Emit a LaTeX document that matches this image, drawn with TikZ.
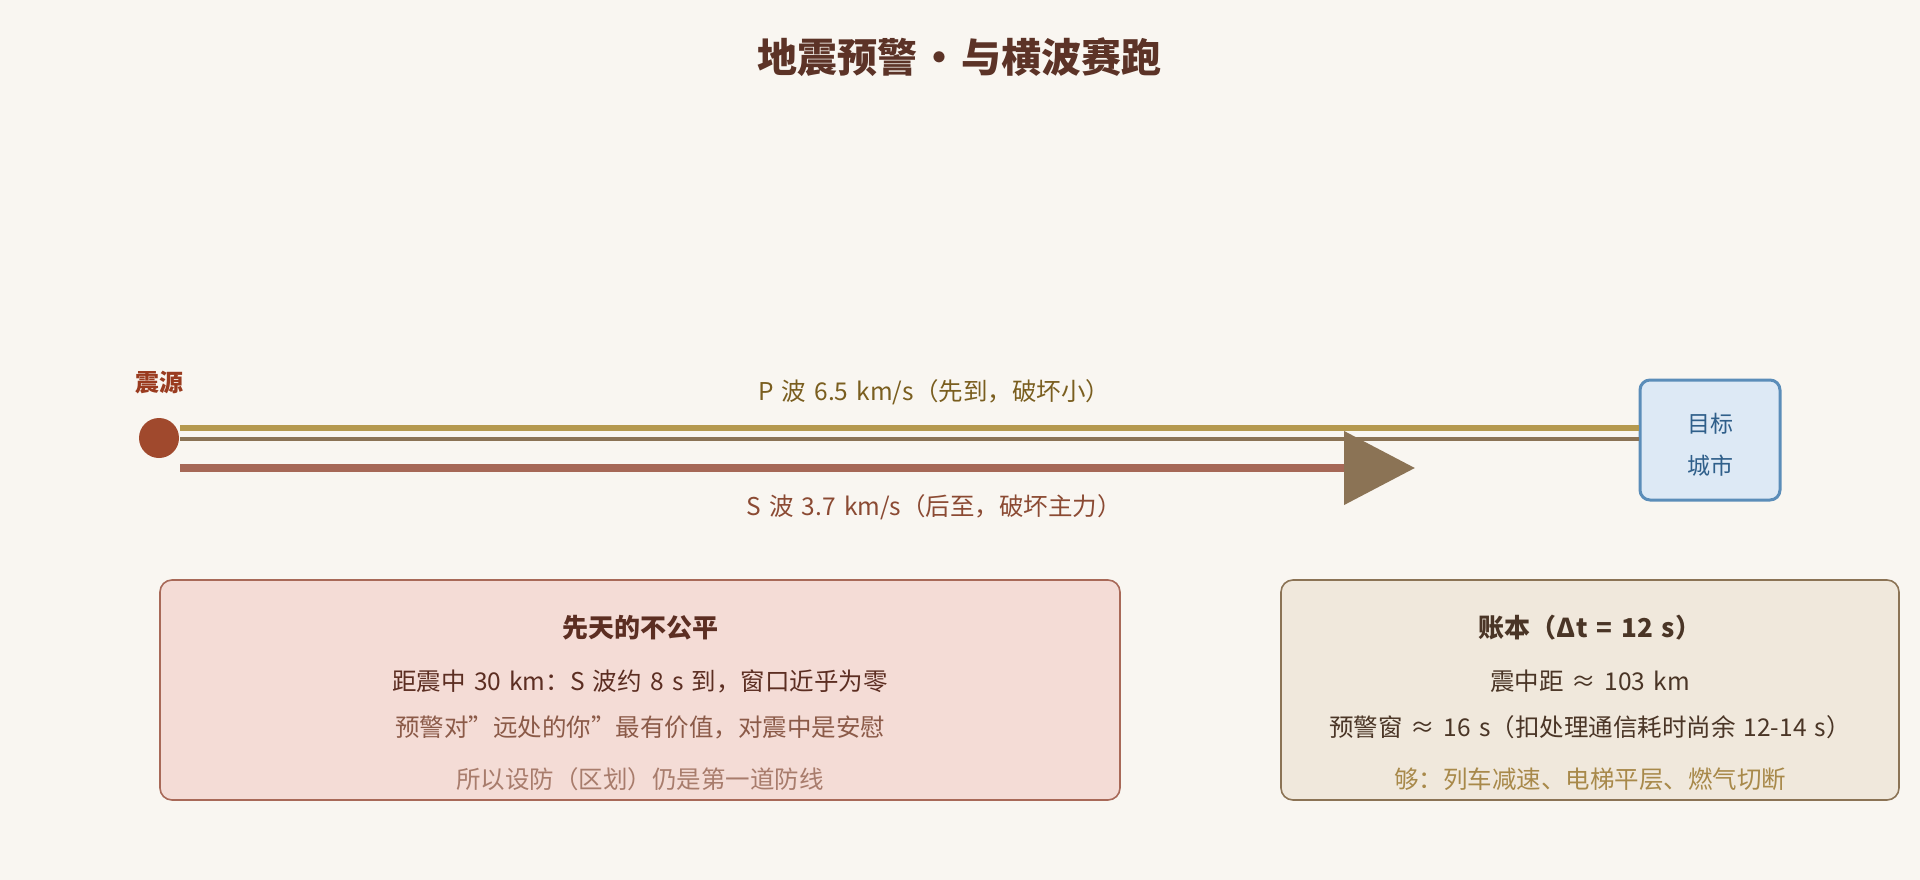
\documentclass[tikz,border=0pt]{standalone}
\usepackage{fontspec}
\setmainfont{Noto Sans CJK SC}[WordSpace=1.5]
\usetikzlibrary{positioning, arrows.meta}

\definecolor{bgcream}{HTML}{F9F6F1}
\definecolor{titlebrown}{HTML}{5C3327}
\definecolor{srcred}{HTML}{9A3B1F}
\definecolor{dotred}{HTML}{A0492D}
\definecolor{pgold}{HTML}{B5994F}
\definecolor{midbrown}{HTML}{8B7355}
\definecolor{srose}{HTML}{A66857}
\definecolor{ptext}{HTML}{7A5E1F}
\definecolor{stext}{HTML}{8B4A33}
\definecolor{cityfill}{HTML}{DDE9F5}
\definecolor{cityline}{HTML}{5B8DB9}
\definecolor{citytext}{HTML}{2F5F8A}
\definecolor{fairfill}{HTML}{F4DCD6}
\definecolor{fairline}{HTML}{A86958}
\definecolor{fairdark}{HTML}{5C2E22}
\definecolor{fairmid}{HTML}{8B5A48}
\definecolor{fairlight}{HTML}{A87C6C}
\definecolor{ledgerfill}{HTML}{F0E8DC}
\definecolor{ledgerdark}{HTML}{4A3526}
\definecolor{ledgergold}{HTML}{A8894A}

\newcommand{\px}[1]{\fontsize{#1}{#1}\selectfont}
\newcommand{\dq}{\char"22\relax}

\begin{document}
\begin{tikzpicture}
	[x=1pt, y=-1pt,
	 wavelabel/.style={font=\px{24.5}},
	 boxline/.style={font=\px{24.5}},
	 boxhead/.style={font=\px{26}\bfseries},
	 panel/.style={draw, rounded corners=12pt, line width=1.6pt}]
   \fill[bgcream] (0,0) rectangle (1920,880);
   \useasboundingbox (0,0) rectangle (1920,880);

   \node[font=\px{40}\bfseries, text=titlebrown] (title) at (959,57)
        {地震预警\hspace{2pt}·\hspace{2pt}与横波赛跑};

   % source and target
   \node[circle, fill=dotred, minimum size=40pt, inner sep=0pt] (src) at (159,438) {};
   \node[font=\px{24}\bfseries, text=srcred] (srclabel) at (159,383) {震源};
   \node[draw=cityline, fill=cityfill, line width=3pt, rounded corners=10pt,
         minimum width=140pt, minimum height=120pt] (city) at (1710,440) {};
   \node[align=center, text=citytext, font=\px{23}] (citylabel) at (1710,445)
         {目标\\[19pt]城市};

   % waves
   \coordinate (pStart) at (180,428);
   \coordinate (mStart) at (180,439);
   \coordinate (sStart) at (180,468);
   \coordinate (sEnd) at (1415,468);
   \draw[pgold, line width=6pt] (pStart) -- (pStart -| city.west);
   \draw[midbrown, line width=4pt] (mStart) -- (mStart -| city.west);
   \draw[srose, line width=8pt,
         -{Triangle[length=71pt, width=72pt, color=midbrown]}] (sStart) -- (sEnd);
   \node[wavelabel, text=ptext] (plabel) at (934,392) {P 波 6.5 km/s（先到，破坏小）};
   \node[wavelabel, text=stext] (slabel) at (934,507) {S 波 3.7 km/s（后至，破坏主力）};

   % the two panels
   \node[panel, draw=fairline, fill=fairfill, minimum width=960pt, minimum height=220pt] (fair) at (640,690) {};
   \node[boxhead, text=fairdark] (fairhead) at (640,628) {先天的不公平};
   \node[boxline, text=fairdark] (fair1) at (640,681) {距震中 30 km：S 波约 8 s 到，窗口近乎为零};
   \node[boxline, text=fairmid] (fair2) at (640,727) {预警对\dq 远处的你\dq 最有价值，对震中是安慰};
   \node[boxline, text=fairlight] (fair3) at (640,779) {所以设防（区划）仍是第一道防线};

   \node[panel, draw=midbrown, fill=ledgerfill, minimum width=618pt, minimum height=220pt] (ledger) at (1590,690) {};
   \node[boxhead, text=ledgerdark] (ledgerhead) at (1590,628) {账本（Δt = 12 s）};
   \node[boxline, text=ledgerdark] (ledger1) at (1590,681) {震中距 ≈ 103 km};
   \node[boxline, text=ledgerdark] (ledger2) at (1590,727) {预警窗 ≈ 16 s（扣处理通信耗时尚余 12-14 s）};
   \node[boxline, text=ledgergold] (ledger3) at (1590,779) {够：列车减速、电梯平层、燃气切断};
\end{tikzpicture}
\end{document}
